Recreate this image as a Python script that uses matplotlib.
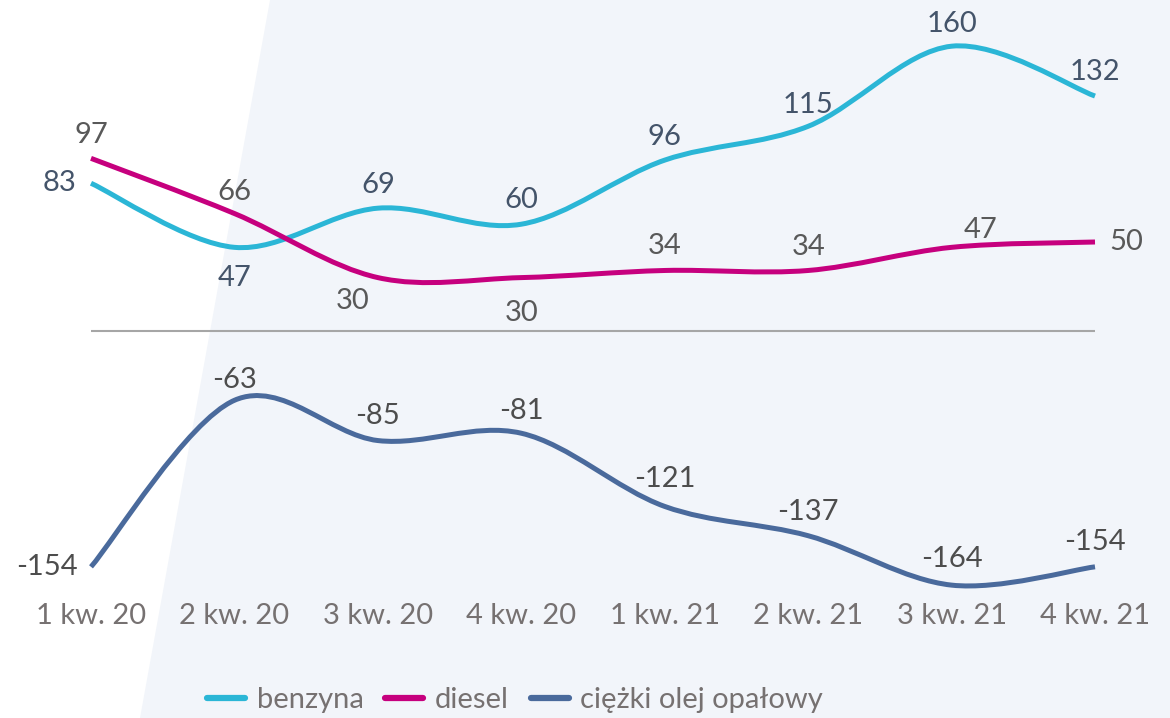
import matplotlib.pyplot as plt
from matplotlib.path import Path
from matplotlib.patches import PathPatch, Polygon

plt.rcParams['font.family'] = ['Lato', 'DejaVu Sans']

quarters = ['1 kw. 20', '2 kw. 20', '3 kw. 20', '4 kw. 20',
            '1 kw. 21', '2 kw. 21', '3 kw. 21', '4 kw. 21']
benzyna = [83, 47, 69, 60, 96, 115, 160, 132]
diesel = [97, 66, 30, 30, 34, 34, 47, 50]
olej = [-154, -63, -85, -81, -121, -137, -164, -154]

# label placement per point: (dx, dy) in pixels
benz_off = [(-31, 0), (0, -31), (0, 23), (0, 24), (0, 23), (0, 21), (0, 22), (0, 24)]
dies_off = [(0, 23), (0, 22), (-25, -23), (0, -35), (0, 24), (0, 23), (29, 17), (31, 0)]
olej_off = [(-44, 0), (0, 20), (0, 25), (0, 22), (0, 27), (0, 24), (0, 26), (0, 25)]

C_BENZ = '#2BB6D6'
C_DIES = '#C6007E'
C_OLEJ = '#4A6A9C'
FS = 21


def smooth_path(xs, ys):
    # Excel-like smoothed line: Catmull-Rom segments as cubic Beziers
    pts = list(zip(xs, ys))
    verts = [pts[0]]
    codes = [Path.MOVETO]
    n = len(pts)
    for i in range(n - 1):
        p0 = pts[max(i - 1, 0)]
        p1 = pts[i]
        p2 = pts[i + 1]
        p3 = pts[min(i + 2, n - 1)]
        c1 = (p1[0] + (p2[0] - p0[0]) / 6, p1[1] + (p2[1] - p0[1]) / 6)
        c2 = (p2[0] - (p3[0] - p1[0]) / 6, p2[1] - (p3[1] - p1[1]) / 6)
        verts += [c1, c2, p2]
        codes += [Path.CURVE4] * 3
    return Path(verts, codes)


fig = plt.figure(figsize=(11.7, 7.18), dpi=100)
fig.patches.append(Polygon([(270 / 1170, 1), (1, 1), (1, 0), (140 / 1170, 0)],
                           closed=True, transform=fig.transFigure,
                           facecolor='#F2F5FA', edgecolor='none', zorder=-5))

bottom = (718 - 596) / 718
ax = fig.add_axes([0, bottom, 1, 1 - bottom])
ax.patch.set_visible(False)
ax2 = ax.twinx()
ax2.patch.set_visible(False)

px = 143.43
ax.set_xlim(-91 / px, 7 + 75 / px)
ax.set_ylim((331 - 596) / 1.78, 331 / 1.78)
ax2.set_ylim((285 - 596) / 1.83, 285 / 1.83)

x = list(range(len(quarters)))
ax.hlines(0, x[0], x[-1], color='#A6A6A6', linewidth=1.5, zorder=1)

for vals, col, a in [(benzyna, C_BENZ, ax), (diesel, C_DIES, ax), (olej, C_OLEJ, ax2)]:
    a.add_patch(PathPatch(smooth_path(x, vals), facecolor='none', edgecolor=col,
                          linewidth=3.6, capstyle='butt', zorder=3))

for vals, offs, tc, a in [(benzyna, benz_off, '#44546A', ax),
                          (diesel, dies_off, '#595959', ax),
                          (olej, olej_off, '#4D4D4D', ax2)]:
    for xi, v, (dx, dy) in zip(x, vals, offs):
        a.annotate(f'{v}', (xi, v), xytext=(dx * 0.72, dy * 0.72), textcoords='offset points',
                   ha='center', va='center', fontsize=FS, color=tc)

ax.set_xticks(x)
ax.set_xticklabels(quarters, fontsize=FS, color='#767171')
ax.tick_params(axis='x', length=0, pad=5)
ax.set_yticks([])
ax2.set_yticks([])
for a in (ax, ax2):
    for s in a.spines.values():
        s.set_visible(False)

handles = [plt.Line2D([], [], color=c, linewidth=4.5, solid_capstyle='round')
           for c in (C_BENZ, C_DIES, C_OLEJ)]
fig.legend(handles, ['benzyna', 'diesel', 'ciężki olej opałowy'], loc='center',
           bbox_to_anchor=(515 / 1170, 1 - 700 / 718), ncol=3, frameon=False,
           fontsize=FS, labelcolor='#767171', handlelength=1.3, handletextpad=0.4,
           columnspacing=0.75)

fig.savefig('out.png', dpi=100)
